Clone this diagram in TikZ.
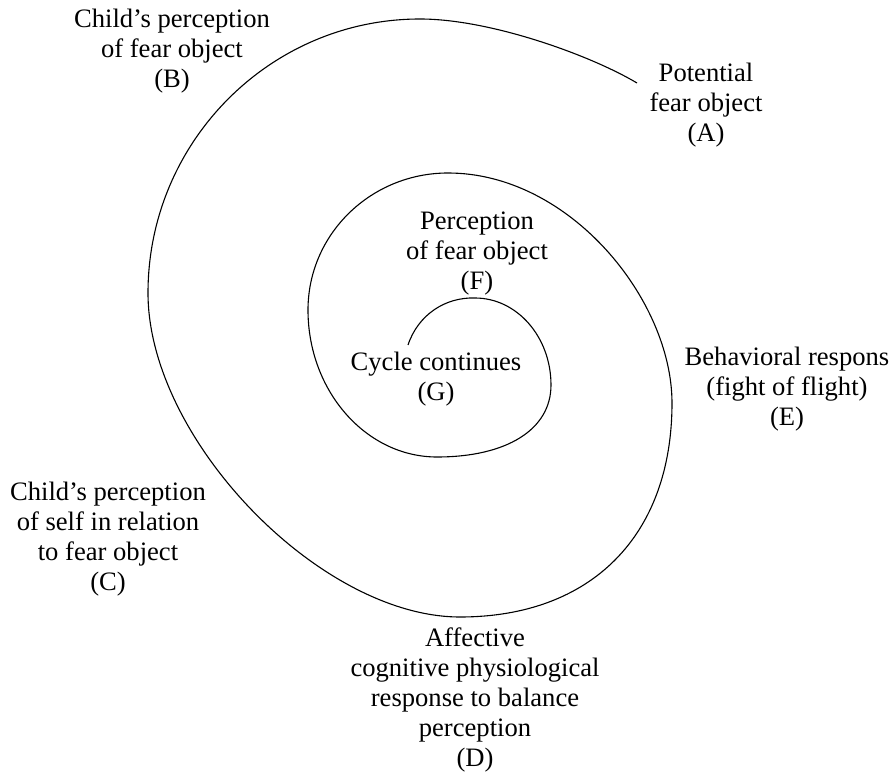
\documentclass[tikz,border=0pt]{standalone}
\usepackage{fontspec}
\setmainfont{Liberation Serif}
\begin{document}
\begin{tikzpicture}[x=0.5pt,y=-0.5pt,
  lbl/.style={align=center,inner sep=0pt,font=\fontsize{13.3pt}{15pt}\selectfont},
  spiral/.style={line width=0.55pt,black}]
\useasboundingbox (0,0) rectangle (890,775);
\coordinate (s0) at (637,83);
\coordinate (t1) at (420,19);
\coordinate (l1) at (148,293);
\coordinate (b1) at (460,617);
\coordinate (r1) at (672,403);
\coordinate (t2) at (448,173);
\coordinate (l2) at (308,310);
\coordinate (b2) at (437,457);
\coordinate (r2) at (551,385);
\coordinate (t3) at (475,298);
\coordinate (e0) at (408,345);
\draw[spiral] (s0) .. controls (590,55) and (490,19) .. (t1)
  .. controls (270,19) and (148,142) .. (l1)
  .. controls (148,439) and (320,617) .. (b1)
  .. controls (591,617) and (672,536) .. (r1)
  .. controls (672,300) and (570,173) .. (t2)
  .. controls (371,173) and (308,234) .. (l2)
  .. controls (308,391) and (366,457) .. (b2)
  .. controls (506,457) and (551,430) .. (r2)
  .. controls (551,337) and (517,298) .. (t3)
  .. controls (445,297) and (418,315) .. (e0);
\node[lbl] (A) at (706,105) {Potential\\fear object\\(A)};
\node[lbl] (B) at (172,51) {Child’s perception\\of fear object\\(B)};
\node[lbl] (C) at (108,539) {Child’s perception\\of self in relation\\to fear object\\(C)};
\node[lbl] (D) at (475,700) {Affective\\cognitive physiological\\response to balance\\perception\\(D)};
\node[lbl] (E) at (787,389) {Behavioral respons\\(fight of flight)\\(E)};
\node[lbl] (F) at (477,254) {Perception\\of fear object\\(F)};
\node[lbl] (G) at (436,379) {Cycle continues\\(G)};
\end{tikzpicture}
\end{document}
